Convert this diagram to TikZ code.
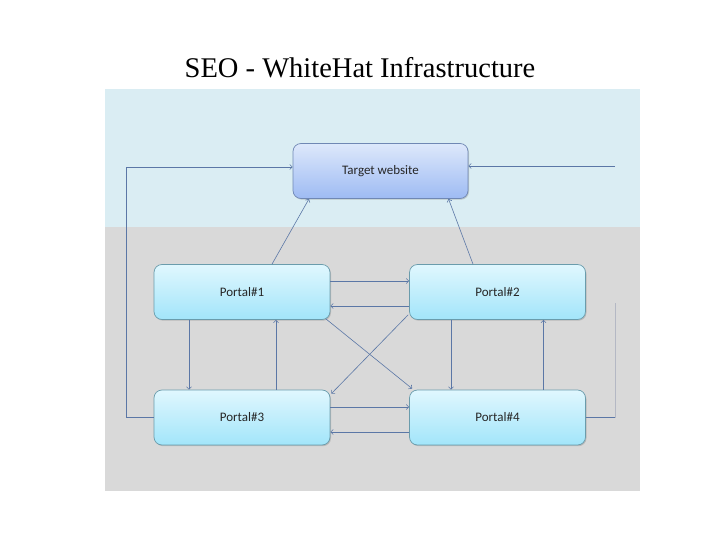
\documentclass[tikz,border=0pt]{standalone}
\usepackage{fontspec}
\setmainfont{Liberation Serif}
\newfontfamily\boxfont{Carlito}
\usetikzlibrary{arrows.meta,calc,shadows}
\definecolor{bgblue}{HTML}{DAEDF3}
\definecolor{bggray}{HTML}{D9D9D9}
\definecolor{lnc}{HTML}{5B77A6}
\definecolor{faintc}{HTML}{B4B8C4}
\definecolor{ttop}{HTML}{DDE8FB}
\definecolor{tbot}{HTML}{9EBBF3}
\definecolor{tbrd}{HTML}{7088B4}
\definecolor{ptop}{HTML}{E0F7FE}
\definecolor{pbot}{HTML}{A2E5FA}
\definecolor{pbrd}{HTML}{6A9CAC}
\tikzset{
  boxbase/.style={rounded corners=8pt, line width=0.7pt, minimum width=176pt, minimum height=55pt,
    font=\boxfont\fontsize{13}{15}\selectfont, text=black!85,
    drop shadow={shadow xshift=1pt, shadow yshift=-1.2pt, opacity=0.35}},
  targetbox/.style={boxbase, draw=tbrd, top color=ttop, bottom color=tbot},
  portalbox/.style={boxbase, draw=pbrd, top color=ptop, bottom color=pbot},
  conn/.style={draw=lnc, line width=0.6pt},
  arr/.style={conn, -{Straight Barb[length=2.5pt,width=5pt]}},
  faintline/.style={draw=faintc, line width=0.6pt}
}
\begin{document}
\begin{tikzpicture}[x=1pt,y=-1pt]
\useasboundingbox (0,0) rectangle (720,540);
\fill[white] (0,0) rectangle (720,540);
\fill[bgblue] (105,89) rectangle (640,227);
\fill[bggray] (105,227) rectangle (640,491);
\node (title) at (360,68) {\fontsize{28.5}{32}\selectfont SEO - WhiteHat Infrastructure};
\node[targetbox, minimum width=175pt] (t) at (380.5,171) {Target website};
\node[portalbox] (p1) at (242,292) {Portal\#1};
\node[portalbox] (p2) at (497.5,292) {Portal\#2};
\node[portalbox] (p3) at (242,417.5) {Portal\#3};
\node[portalbox] (p4) at (497.5,417.5) {Portal\#4};
% horizontal pairs
\draw[arr] ($(p1.east)+(0,-11)$) -- ($(p2.west)+(0,-11)$);
\draw[arr] ($(p2.west)+(0,14)$) -- ($(p1.east)+(0,14)$);
\draw[arr] ($(p3.east)+(0,-10.5)$) -- ($(p4.west)+(0,-10.5)$);
\draw[arr] ($(p4.west)+(0,14.5)$) -- ($(p3.east)+(0,14.5)$);
% vertical pairs
\draw[arr] ($(p1.south)+(-53,0)$) -- ($(p3.north)+(-53,0)$);
\draw[arr] ($(p3.north)+(34,0)$) -- ($(p1.south)+(34,0)$);
\draw[arr] ($(p2.south)+(-46.5,0)$) -- ($(p4.north)+(-46.5,0)$);
\draw[arr] ($(p4.north)+(46,0)$) -- ($(p2.south)+(46,0)$);
% to target
\draw[arr] ($(p1.north)+(30,0)$) -- ($(t.south)+(-71.5,0)$);
\draw[arr] ($(p2.north)+(-24.5,0)$) -- ($(t.south)+(68,0)$);
% diagonals
\draw[arr] ($(p1.south east)+(-4.5,-1)$) -- ($(p4.north west)+(3,-1)$);
\draw[arr] ($(p2.south west)+(-1,-5)$) -- ($(p3.north east)+(1,4)$);
% left loop
\coordinate (lc) at (126,167);
\draw[arr] (p3.west) -| (lc) -- ($(t.west)+(0,-4)$);
% right loop
\coordinate (rc) at (615,417.5);
\coordinate (rb) at (615,303);
\coordinate (rt) at (615,166);
\draw[conn] (p4.east) -- (rc);
\draw[faintline] (rc) -- (rb);
\draw[arr] (rt) -- ($(t.east)+(0,-5)$);
\end{tikzpicture}
\end{document}
